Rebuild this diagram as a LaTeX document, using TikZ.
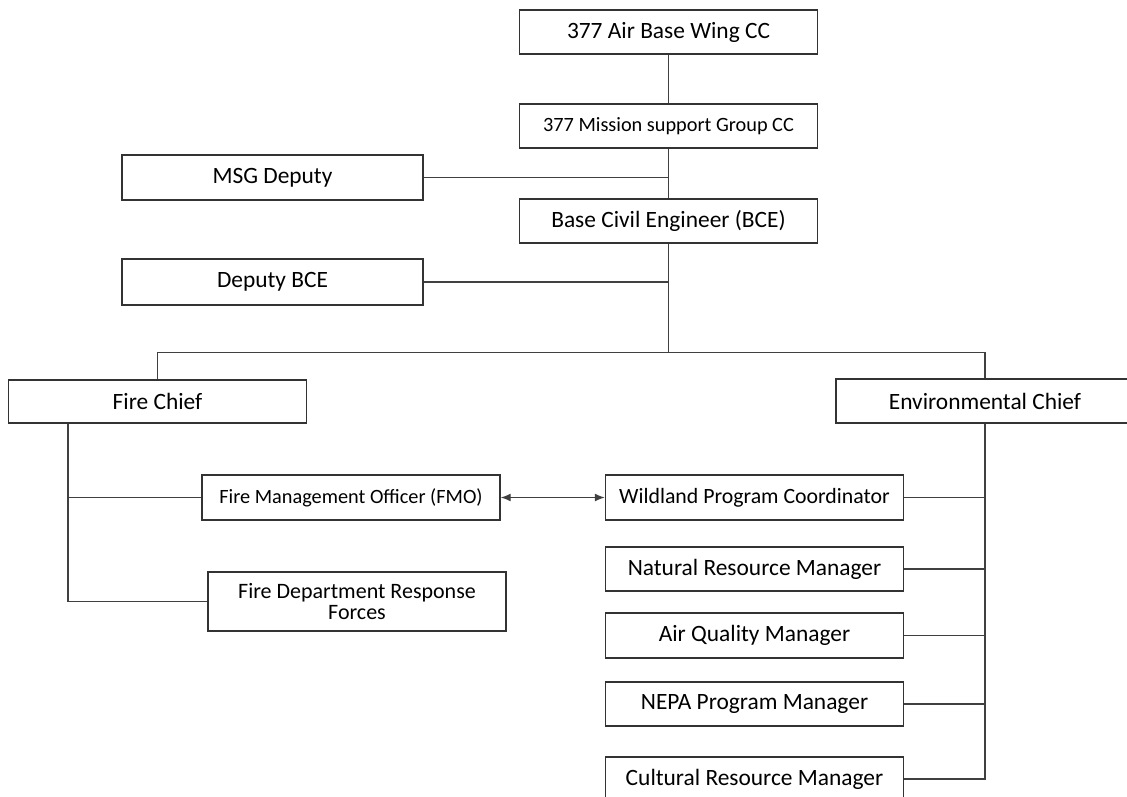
\documentclass[tikz,border=0pt]{standalone}
\usepackage{fontspec}
\setmainfont{Carlito}
\usetikzlibrary{calc,arrows.meta}

\tikzset{
  office/.style={draw=black!80, line width=1.4pt, fill=white, inner sep=0pt,
    minimum width=298pt, minimum height=44pt, align=center,
    font=\fontsize{23.4}{24}\selectfont},
  smalloffice/.style={office, font=\fontsize{20.3}{22}\selectfont},
  link/.style={draw=black!75, line width=1.4pt}
}

\begin{document}
\begin{tikzpicture}[x=1pt,y=-1pt]
\useasboundingbox (0,0) rectangle (1127,797);

% command chain
\node at (668.5,32) (abw)[office] {377 Air Base Wing CC};
\node at (668.5,126) (msgcc)[smalloffice] {377 Mission support Group CC};
\node at (668.5,221) (bce)[office] {Base Civil Engineer (BCE)};

% deputies
\node at (272.5,177.5) (msgdep)[office, minimum width=301pt, minimum height=45pt] {MSG Deputy};
\node at (272.5,282) (depbce)[office, minimum width=301pt, minimum height=46pt] {Deputy BCE};

% chiefs
\node at (157.5,401.5) (firechief)[office, minimum height=43pt] {Fire Chief};
\node at (985,401) (envchief)[office] {Environmental Chief};

% fire side
\node at (351,497.5) (fmo)[smalloffice, minimum height=45pt] {Fire Management Officer (FMO)};
\node at (357,601.5) (fdrf)[office, minimum height=59pt, font=\fontsize{22}{21}\selectfont] {Fire Department Response\\Forces};

% environmental side
\node at (754.5,497.5) (wild)[office, minimum height=45pt, font=\fontsize{21.8}{23}\selectfont] {Wildland Program Coordinator};
\node at (754.5,569) (natres)[office] {Natural Resource Manager};
\node at (754.5,635.5) (airq)[office, minimum height=45pt] {Air Quality Manager};
\node at (754.5,704) (nepa)[office] {NEPA Program Manager};
\node at (754.5,779) (cultural)[office] {Cultural Resource Manager};

% trunk
\coordinate (bus) at ($(bce.south)+(0,109)$);
\draw[link] (abw) -- (msgcc);
\draw[link] (msgcc) -- (bce);
\draw[link] (msgdep.east) -- (msgdep.east -| msgcc.south);
\draw[link] (depbce.east) -- (depbce.east -| bce.south);
\draw[link] (bce.south) -- (bus);
\draw[link] (firechief.north) |- (bus) -| (envchief.north);

% fire chief branch
\coordinate (firetrunk) at ($(firechief.south west)+(60,0)$);
\draw[link] (firetrunk) |- (fdrf.west);
\draw[link] (fmo.west) -- (fmo.west -| firetrunk);

% environmental branch
\draw[link] (envchief.south) |- (cultural.east);
\foreach \n in {wild,natres,airq,nepa}
  \draw[link] (\n.east) -- (\n.east -| envchief.south);

% coordination
\draw[link, {Latex[length=10pt,width=8pt]}-{Latex[length=10pt,width=8pt]}] (fmo.east) -- (wild.west);

\end{tikzpicture}
\end{document}
